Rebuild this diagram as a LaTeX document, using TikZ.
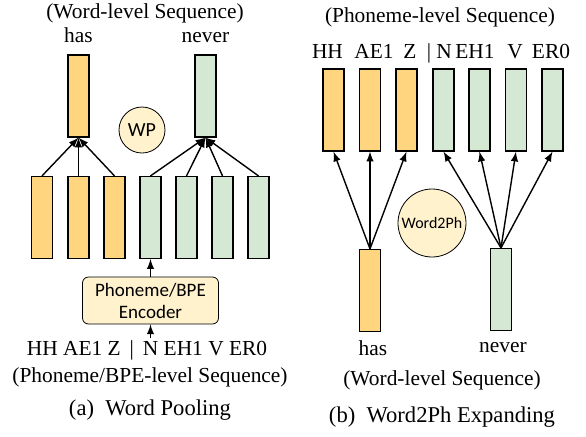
\documentclass[tikz,border=0pt]{standalone}
\usepackage{fontspec}
\setmainfont{Liberation Serif}
\newfontfamily\calib{Carlito}
\usetikzlibrary{positioning}

\definecolor{hasfill}{HTML}{FFD580}
\definecolor{nevfill}{HTML}{D5E8D4}
\definecolor{opfill}{HTML}{FFF2CC}

\begin{document}
\begin{tikzpicture}[x=0.5pt, y=-0.5pt, >=latex,
  bar/.style={draw, line width=0.6pt, minimum width=10.5pt, minimum height=41pt, inner sep=0pt},
  hasbar/.style={bar, fill=hasfill},
  nevbar/.style={bar, fill=nevfill},
  op/.style={circle, draw, fill=opfill, inner sep=0pt},
  txt/.style={font=\fontsize{10.7}{12.8}\selectfont, inner sep=1pt},
  captxt/.style={font=\fontsize{11.3}{13.5}\selectfont, inner sep=1pt},
  arr/.style={->, line width=0.7pt}]
  \useasboundingbox (0,0) rectangle (586,436);

  % (a) Word Pooling
  \node [txt] (ttlA) at (145,13) {(Word-level Sequence)};
  \node [hasbar] (wHas) at (78.5,96) {};
  \node [nevbar] (wNev) at (205.5,96) {};
  \node [txt, above=4.5pt of wHas] (lHas) {has};
  \node [txt, above=4.5pt of wNev] (lNev) {never};
  \node [op, minimum size=23pt, font=\calib\fontsize{10}{12}\selectfont] (wp) at (142,130) {WP};

  \foreach \x [count=\i] in {42,78.5,114.5}
    \node [hasbar] (a\i) at (\x,217.5) {};
  \foreach \x [count=\i from 4] in {150.5,186.5,222.5,258.5}
    \node [nevbar] (a\i) at (\x,217.5) {};

  \foreach \i in {1,2,3}
    \draw [arr] (a\i.north) -- (wHas.south);
  \foreach \i in {4,...,7}
    \draw [arr] (a\i.north) -- (wNev.south);

  \node [draw, rounded corners=3pt, fill=opfill, align=center,
         minimum width=68pt, minimum height=23.5pt, inner sep=1pt,
         font=\calib\fontsize{9.5}{11}\selectfont] (enc) at (150.5,300.5) {Phoneme/BPE\\Encoder};
  \draw [arr] (enc.north) -- (a4.south);

  \node [txt] (phA) at (147,350) {HH AE1 Z~\,|\,~N EH1 V ER0};
  \draw [arr] (phA.north -| enc.south) -- (enc.south);
  \node [txt] (seqA) at (150,377) {(Phoneme/BPE-level Sequence)};
  \node [captxt] (capA) at (150,410) {(a)\enspace Word Pooling};

  % (b) Word2Ph Expanding
  \node [txt] (ttlB) at (440,17) {(Phoneme-level Sequence)};
  \foreach \x/\lx/\lab [count=\i] in {333.5/327.5/HH,370/374/AE1,406.5/410/Z}{
    \node [hasbar] (p\i) at (\x,110) {};
    \node [txt, anchor=base] (l\i) at (\lx,58) {\lab};
  }
  \foreach \x/\lx/\lab [count=\i from 4] in {443.5/444/N,479.5/475/EH1,516/515/V,552.5/551/ER0}{
    \node [nevbar] (p\i) at (\x,110) {};
    \node [txt, anchor=base] (l\i) at (\lx,58) {\lab};
  }
  \node [txt, anchor=base] (sep) at (429,58) {|};

  \node [hasbar] (bHas) at (370,290.5) {};
  \node [nevbar] (bNev) at (501,289.5) {};
  \node [op, minimum size=34pt, font=\calib\fontsize{8}{10}\selectfont] (w2p) at (432,223) {Word2Ph};

  \foreach \i in {1,2,3}
    \draw [arr] (bHas.north) -- (p\i.south);
  \foreach \i in {4,...,7}
    \draw [arr] (bNev.north) -- (p\i.south);

  \node [txt] (lbHas) at (373,348) {has};
  \node [txt] (lbNev) at (503,348) {never};
  \node [txt] (seqB) at (442,380) {(Word-level Sequence)};
  \node [captxt] (capB) at (442,417) {(b)\enspace Word2Ph Expanding};
\end{tikzpicture}
\end{document}
